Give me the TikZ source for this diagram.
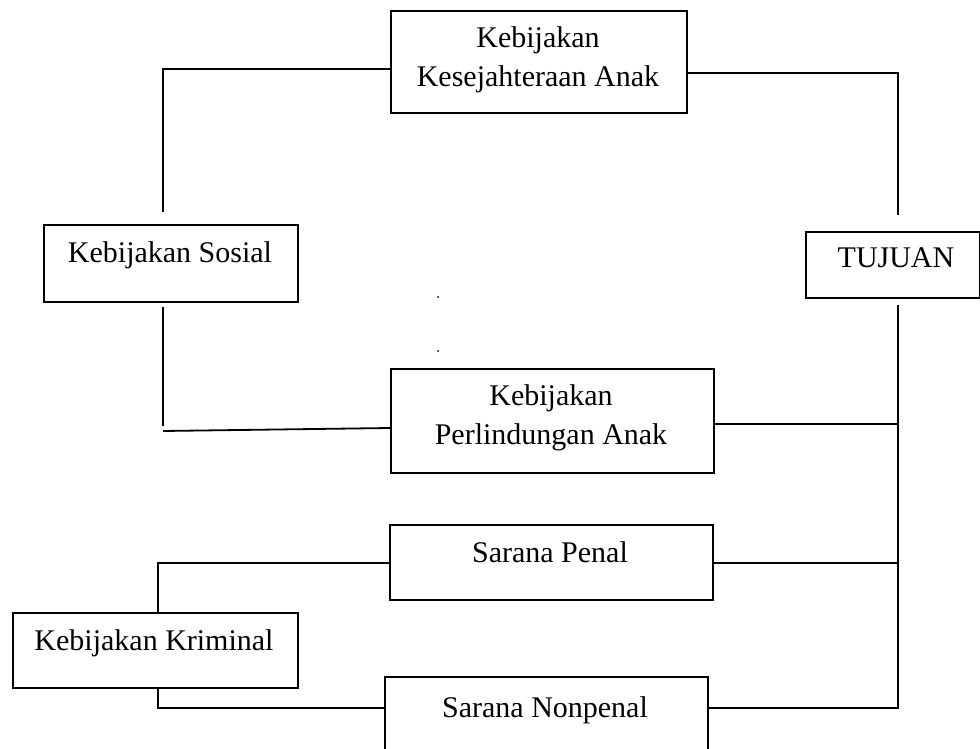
\documentclass[tikz,border=0pt]{standalone}
\usepackage{fontspec}
\setmainfont{Liberation Serif}
\begin{document}
\begin{tikzpicture}[x=1pt,y=-1pt,line width=1.8pt,
  box/.style={draw,line width=1.8pt,inner sep=0pt,anchor=north west},
  lbl/.style={inner sep=0pt,anchor=base,font=\fontsize{30}{39}\selectfont,align=center}]
\useasboundingbox (0,0) rectangle (980,749);
% boxes
\node[box,minimum width=296pt,minimum height=102pt] (kesej) at (390,10) {};
\node[box,minimum width=254pt,minimum height=77pt] (sosial) at (43,224) {};
\node[box,minimum width=174pt,minimum height=66pt] (tujuan) at (805,231) {};
\node[box,minimum width=323pt,minimum height=104pt] (perlind) at (390,368) {};
\node[box,minimum width=323pt,minimum height=75pt] (penal) at (389,524) {};
\node[box,minimum width=285pt,minimum height=75pt] (kriminal) at (12,612) {};
\node[box,minimum width=323pt,minimum height=104pt] (nonpenal) at (384,676) {};
% labels
\node[lbl] (tk1) at (538,48) {Kebijakan};
\node[lbl] (tk2) at (538,87) {Kesejahteraan Anak};
\node[lbl] (ts) at (170,262) {Kebijakan Sosial};
\node[lbl] (tt) at (896,267) {TUJUAN};
\node[lbl] (tp1) at (551,405) {Kebijakan};
\node[lbl] (tp2) at (551,444) {Perlindungan Anak};
\node[lbl] (tpn) at (550,562) {Sarana Penal};
\node[lbl] (tkr) at (154,650) {Kebijakan Kriminal};
\node[lbl] (tnp) at (545,717) {Sarana Nonpenal};
% coordinates
\coordinate (b1) at (163,69);
\coordinate (e1) at (163,212);
\coordinate (b2) at (898,73);
\coordinate (e2) at (898,215);
\coordinate (s3) at (163,307);
\coordinate (e3) at (163,426);
\coordinate (h3) at (163,431);
\coordinate (p3) at (0,428);
\coordinate (t4) at (898,305);
\coordinate (b4) at (898,708);
\coordinate (j1) at (898,424);
\coordinate (j2) at (898,563);
\coordinate (b5) at (158,563);
\coordinate (b6) at (158,708);
% connectors
\draw (kesej.west |- b1) -- (b1) -- (e1);
\draw (kesej.east |- b2) -- (b2) -- (e2);
\draw (s3) -- (e3);
\draw (h3) -- (perlind.west |- p3);
\draw (t4) -- (b4) -- (nonpenal.east |- b4);
\draw (perlind.east |- j1) -- (j1);
\draw (penal.east |- j2) -- (j2);
\draw (kriminal.north -| b5) -- (b5) -- (penal.west |- b5);
\draw (kriminal.south -| b6) -- (b6) -- (nonpenal.west |- b6);
% stray dots
\fill (438,297) circle (1pt);
\fill (438,351) circle (1pt);
\end{tikzpicture}
\end{document}
